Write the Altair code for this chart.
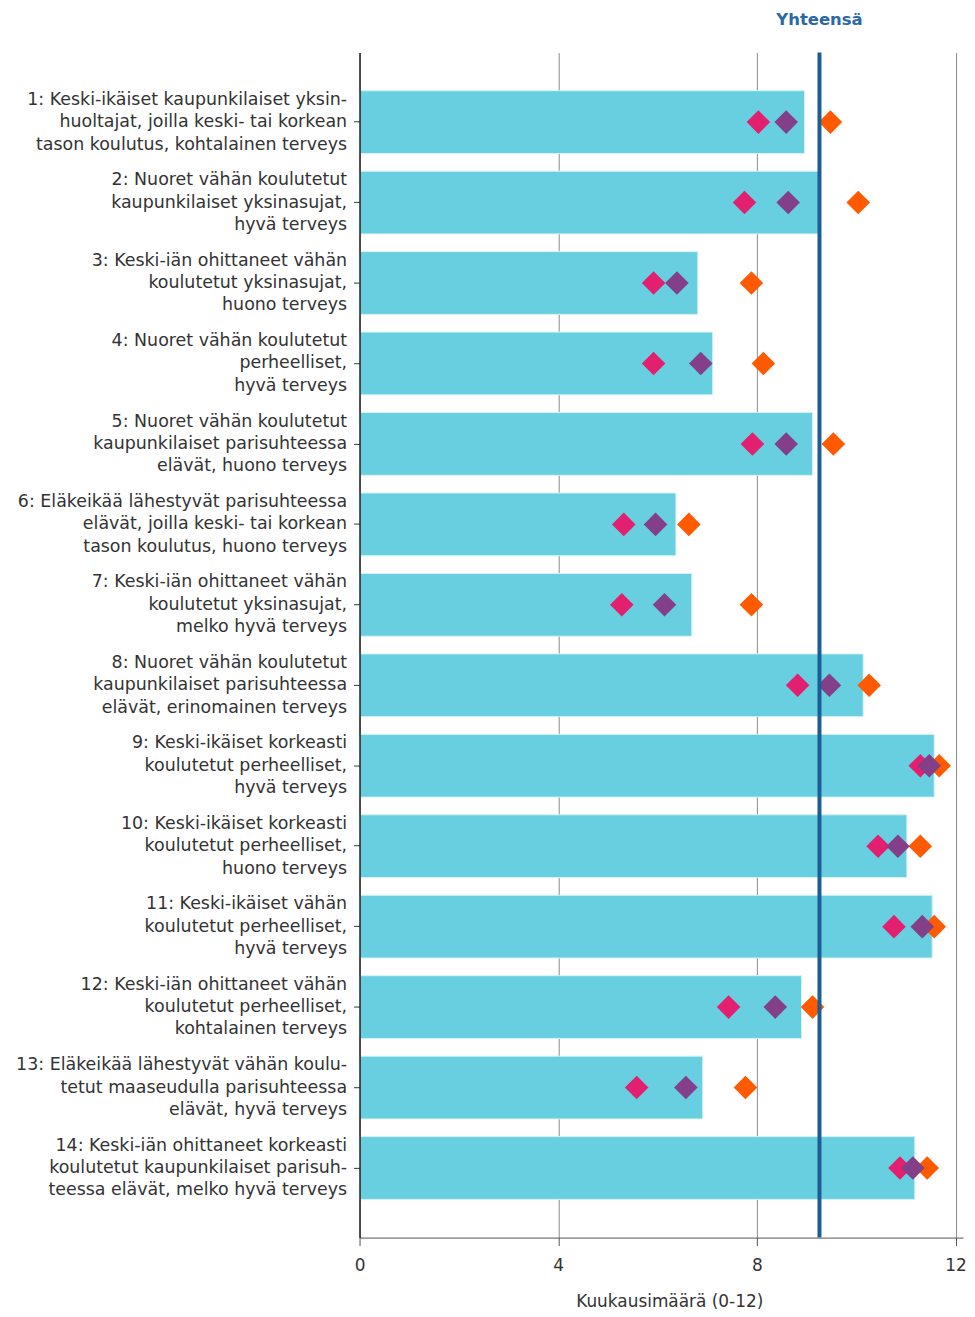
import altair as alt
import pandas as pd

categories = [
    "1: Keski-ikäiset kaupunkilaiset yksin-|huoltajat, joilla keski- tai korkean|tason koulutus, kohtalainen terveys",
    "2: Nuoret vähän koulutetut|kaupunkilaiset yksinasujat,|hyvä terveys",
    "3: Keski-iän ohittaneet vähän|koulutetut yksinasujat,|huono terveys",
    "4: Nuoret vähän koulutetut|perheelliset,|hyvä terveys",
    "5: Nuoret vähän koulutetut|kaupunkilaiset parisuhteessa|elävät, huono terveys",
    "6: Eläkeikää lähestyvät parisuhteessa|elävät, joilla keski- tai korkean|tason koulutus, huono terveys",
    "7: Keski-iän ohittaneet vähän|koulutetut yksinasujat,|melko hyvä terveys",
    "8: Nuoret vähän koulutetut|kaupunkilaiset parisuhteessa|elävät, erinomainen terveys",
    "9: Keski-ikäiset korkeasti|koulutetut perheelliset,|hyvä terveys",
    "10: Keski-ikäiset korkeasti|koulutetut perheelliset,|huono terveys",
    "11: Keski-ikäiset vähän|koulutetut perheelliset,|hyvä terveys",
    "12: Keski-iän ohittaneet vähän|koulutetut perheelliset,|kohtalainen terveys",
    "13: Eläkeikää lähestyvät vähän koulu-|tetut maaseudulla parisuhteessa|elävät, hyvä terveys",
    "14: Keski-iän ohittaneet korkeasti|koulutetut kaupunkilaiset parisuh-|teessa elävät, melko hyvä terveys",
]
bar_values = [8.96, 9.26, 6.81, 7.11, 9.12, 6.37, 6.69, 10.14, 11.57, 11.02, 11.53, 8.90, 6.91, 11.18]
pink_values = [8.03, 7.75, 5.92, 5.92, 7.91, 5.32, 5.28, 8.82, 11.29, 10.44, 10.76, 7.43, 5.58, 10.88]
purple_values = [8.59, 8.63, 6.39, 6.87, 8.59, 5.96, 6.14, 9.46, 11.47, 10.84, 11.33, 8.37, 6.57, 11.14]
orange_values = [9.48, 10.04, 7.89, 8.13, 9.54, 6.63, 7.89, 10.26, 11.67, 11.29, 11.57, 9.12, 7.77, 11.43]
total_value = 9.26
total_label = "Yhteensä"
x_title = "Kuukausimäärä (0-12)"
x_ticks = [0, 4, 8, 12]

bars_df = pd.DataFrame({"cat": categories, "value": bar_values})
points_df = pd.concat([
    pd.DataFrame({"cat": categories, "value": pink_values, "series": "pink"}),
    pd.DataFrame({"cat": categories, "value": purple_values, "series": "purple"}),
    pd.DataFrame({"cat": categories, "value": orange_values, "series": "orange"}),
])
total_df = pd.DataFrame({"value": [total_value], "label": [total_label]})

FONT = "DejaVu Sans"
W, H = 606, 1190

xscale = alt.Scale(domain=[0, 12.15], nice=False, zero=True)
yscale = alt.Scale(paddingInner=0.22, paddingOuter=0.475)

x_axis = alt.Axis(values=x_ticks, grid=True, gridColor="#8a8a8a", gridWidth=1,
                  domainColor="#555555", tickColor="#555555", tickSize=8,
                  labelFont=FONT, labelFontSize=17, labelColor="#333333", labelPadding=12,
                  labelFlush=False,
                  title=x_title, titleFont=FONT, titleFontSize=17, titleFontWeight="normal",
                  titleColor="#333333", titlePadding=20, titleX=311)
y_axis = alt.Axis(title=None, labelExpr="split(datum.label, '|')", labelFont=FONT,
                  labelFontSize=17.5, labelColor="#333333", labelLineHeight=22.5,
                  labelOffset=-22.5, labelPadding=7, tickSize=6, tickColor="#333333",
                  domainColor="#222222", domainWidth=1.5, labelLimit=400, grid=False,
                  zindex=1)

bars = alt.Chart(bars_df).mark_bar(color="#67cfdf", stroke="#d6f2f6", strokeWidth=1).encode(
    x=alt.X("value:Q", scale=xscale, axis=x_axis),
    y=alt.Y("cat:N", sort=categories, scale=yscale, axis=y_axis),
)

rule = alt.Chart(total_df).mark_rule(color="#1c5e94", strokeWidth=4).encode(
    x=alt.X("value:Q", scale=xscale),
)

label = alt.Chart(total_df).mark_text(font=FONT, fontSize=16.5, fontWeight="bold",
                                      color="#2a69a6", baseline="middle").encode(
    x=alt.X("value:Q", scale=xscale),
    y=alt.value(-33),
    text="label:N",
)

points = alt.Chart(points_df).mark_point(shape="diamond", filled=True, opacity=1, size=560).encode(
    x=alt.X("value:Q", scale=xscale),
    y=alt.Y("cat:N", sort=categories, scale=yscale),
    color=alt.Color("series:N", scale=alt.Scale(domain=["pink", "purple", "orange"],
                                                range=["#e31f6f", "#833f87", "#ff5a00"]),
                    legend=None),
    order=alt.Order("series:N"),
)

chart = alt.layer(bars, points, rule, label).properties(
    width=W, height=H,
    autosize=alt.AutoSizeParams(type="none"),
    padding={"left": 353, "top": 42, "right": 4, "bottom": 72},
).configure_view(stroke=None)

chart.save("out.html", embed_options={"renderer": "svg", "actions": False})
